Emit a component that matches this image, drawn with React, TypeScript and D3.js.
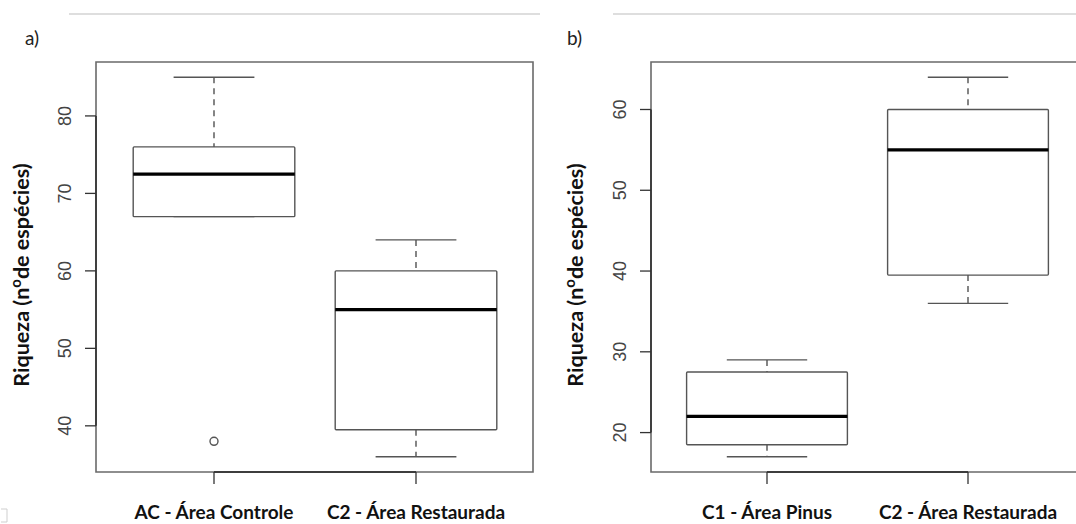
import * as d3 from 'd3';

// panel a
const groupsA = ["AC - Área Controle", "C2 - Área Restaurada"];
const whiskLoA = [67, 36];
const q1A = [67, 39.5];
const medA = [72.5, 55];
const q3A = [76, 60];
const whiskHiA = [85, 64];
const outliersA = [[38], []];
const yTicksA = [40, 50, 60, 70, 80];

// panel b
const groupsB = ["C1 - Área Pinus", "C2 - Área Restaurada"];
const whiskLoB = [17, 36];
const q1B = [18.5, 39.5];
const medB = [22, 55];
const q3B = [27.5, 60];
const whiskHiB = [29, 64];
const outliersB: number[][] = [[], []];
const yTicksB = [20, 30, 40, 50, 60];

const W = 1076;
const H = 524;
const top = 62;
const bottom = 472;
const labelFont = "Lato, 'Open Sans', sans-serif";
const tickFont = "'Liberation Sans', Arial, sans-serif";

interface PanelProps {
    tag: string;
    groups: string[];
    lo: number[];
    q1: number[];
    med: number[];
    q3: number[];
    hi: number[];
    outliers: number[][];
    yTicks: number[];
    frameLeft: number;
    frameRight: number;
    c1: number;
    c2: number;
    titleX: number;
    tagX: number;
    lineX0: number;
    lineX1: number;
}

const Panel = (p: PanelProps) => {
    const allVals = [...p.lo, ...p.hi, ...p.outliers.flat()];
    const mn = d3.min(allVals) as number;
    const mx = d3.max(allVals) as number;
    const pad = (mx - mn) * 0.04;
    const y = d3.scaleLinear().domain([mn - pad, mx + pad]).range([bottom, top]);
    const x = d3.scaleLinear().domain([1, 2]).range([p.c1, p.c2]);
    const unit = p.c2 - p.c1;
    const bw = unit * 0.8;
    const cw = unit * 0.4;
    const yMid = (top + bottom) / 2;

    return (
        <g>
            {/* header rule + tag */}
            <line x1={p.lineX0} x2={p.lineX1} y1={14} y2={14} stroke="#bdbdbd" strokeWidth={1.2} />
            <text x={p.tagX} y={45} fontFamily={labelFont} fontSize={19} fill="#222">{p.tag}</text>

            {/* frame */}
            <path d={`M${p.frameLeft},${top}H${p.frameRight}V${bottom}H${p.frameLeft}Z`}
                fill="none" stroke="#6a6a6a" strokeWidth={1.6} />

            {/* y axis */}
            <line x1={p.frameLeft} x2={p.frameLeft} y1={y(p.yTicks[0])} y2={y(p.yTicks[p.yTicks.length - 1])}
                stroke="#222" strokeWidth={1.4} />
            {p.yTicks.map(t => (
                <g key={t}>
                    <line x1={p.frameLeft - 11} x2={p.frameLeft} y1={y(t)} y2={y(t)} stroke="#333" strokeWidth={1.3} />
                    <text transform={`translate(${p.frameLeft - 31},${y(t)}) rotate(-90)`}
                        textAnchor="middle" dy="0.36em" fontFamily={tickFont} fontSize={18} fill="#444">{t}</text>
                </g>
            ))}
            <text transform={`translate(${p.titleX},${yMid + 8}) rotate(-90)`} textAnchor="middle"
                fontFamily={labelFont} fontWeight="bold" fontSize={21.5} fill="#111">
                <tspan>Riqueza (n</tspan>
                <tspan fontSize={15} dy={-8}>o</tspan>
                <tspan dy={8}>de espécies)</tspan>
            </text>

            {/* x axis */}
            <line x1={x(1)} x2={x(2)} y1={bottom} y2={bottom} stroke="#222" strokeWidth={1.4} />
            {p.groups.map((g, i) => (
                <g key={g}>
                    <line x1={x(i + 1)} x2={x(i + 1)} y1={bottom} y2={bottom + 12} stroke="#333" strokeWidth={1.3} />
                    <text x={x(i + 1)} y={519} textAnchor="middle" fontFamily={labelFont} fontWeight="bold"
                        fontSize={19} fill="#111">{g}</text>
                </g>
            ))}

            {/* boxes */}
            {p.groups.map((g, i) => {
                const cx = x(i + 1);
                return (
                    <g key={g + "-box"}>
                        <line x1={cx} x2={cx} y1={y(p.hi[i])} y2={y(p.q3[i])} stroke="#444" strokeWidth={1.3} strokeDasharray="6,5" />
                        <line x1={cx} x2={cx} y1={y(p.q1[i])} y2={y(p.lo[i])} stroke="#444" strokeWidth={1.3} strokeDasharray="6,5" />
                        <line x1={cx - cw / 2} x2={cx + cw / 2} y1={y(p.hi[i])} y2={y(p.hi[i])} stroke="#555" strokeWidth={1.4} />
                        <line x1={cx - cw / 2} x2={cx + cw / 2} y1={y(p.lo[i])} y2={y(p.lo[i])} stroke="#555" strokeWidth={1.4} />
                        <rect x={cx - bw / 2} y={y(p.q3[i])} width={bw} height={y(p.q1[i]) - y(p.q3[i])}
                            fill="white" stroke="#555" strokeWidth={1.4} rx={1} />
                        <line x1={cx - bw / 2} x2={cx + bw / 2} y1={y(p.med[i])} y2={y(p.med[i])} stroke="#000" strokeWidth={3.2} />
                        {p.outliers[i].map((o, k) => (
                            <circle key={k} cx={cx} cy={y(o)} r={4} fill="white" stroke="#555" strokeWidth={1.4} />
                        ))}
                    </g>
                );
            })}
        </g>
    );
};

export default function App() {
    return (
        <svg width={W} height={H} style={{ position: 'absolute', left: 0, top: 0, background: 'white' }}>
            <rect width={W} height={H} fill="white" />
            <Panel tag="a)" groups={groupsA} lo={whiskLoA} q1={q1A} med={medA} q3={q3A} hi={whiskHiA}
                outliers={outliersA} yTicks={yTicksA} frameLeft={96} frameRight={533} c1={214} c2={416}
                titleX={29} tagX={25} lineX0={69} lineX1={540} />
            <Panel tag="b)" groups={groupsB} lo={whiskLoB} q1={q1B} med={medB} q3={q3B} hi={whiskHiB}
                outliers={outliersB} yTicks={yTicksB} frameLeft={651} frameRight={1085} c1={767} c2={968}
                titleX={583} tagX={567} lineX0={613} lineX1={1076} />
            {/* stray corner mark */}
            <path d="M1,509H7V522H1" fill="none" stroke="#cfcfcf" strokeWidth={1} />
        </svg>
    );
}
